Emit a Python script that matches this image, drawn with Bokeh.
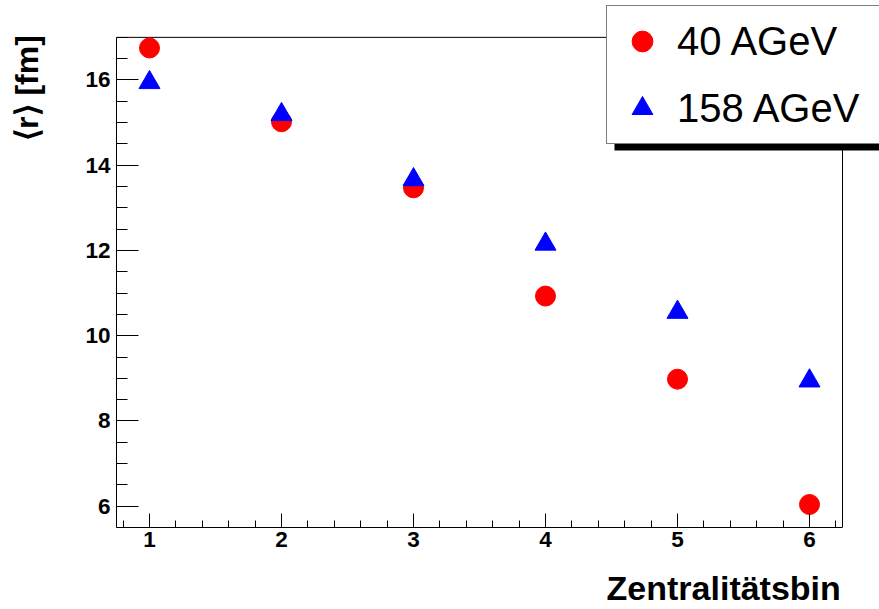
from bokeh.plotting import figure
from bokeh.models import (Range1d, SingleIntervalTicker, FixedTicker, Legend, LegendItem,
                          BoxAnnotation, LinearAxis)
from bokeh.embed import file_html
from bokeh.resources import INLINE

# ---- data ----
bins = [1, 2, 3, 4, 5, 6]
r_40 = [16.75, 15.02, 13.47, 10.93, 8.98, 6.04]
r_158 = [15.94, 15.19, 13.66, 12.15, 10.55, 8.94]
label_40 = "40 AGeV"
label_158 = "158 AGeV"
x_title = "Zentralitätsbin"
y_title = "⟨r⟩ [fm]"

# axis extents (the drawn frame box)
x_lo, x_hi = 0.75, 6.25
y_lo, y_hi = 5.5, 17.0

FONT = "Liberation Sans"

W, H = 879, 609
BL, BB = 116, 80          # left / bottom borders (px)
BOX_W, BOX_H = 726, 492   # size of the drawn frame box (px)
# the Bokeh frame is larger than the drawn box so that the legend can sit
# above / right of the box (annotations are clipped to the frame)
frame_w, frame_h = W - BL, H - BB
px_x = BOX_W / (x_hi - x_lo)
px_y = BOX_H / (y_hi - y_lo)
x_end = x_lo + frame_w / px_x
y_end = y_lo + frame_h / px_y

p = figure(width=W, height=H, output_backend="svg", toolbar_location=None,
           x_range=Range1d(x_lo, x_end), y_range=Range1d(y_lo, y_end),
           min_border_left=BL, min_border_right=0, min_border_top=0,
           min_border_bottom=BB)

p.background_fill_color = "white"
p.border_fill_color = "white"
p.outline_line_color = None
p.xgrid.visible = False
p.ygrid.visible = False

xa = p.xaxis[0]
ya = p.yaxis[0]
xa.ticker = SingleIntervalTicker(interval=1, num_minor_ticks=5)
ya.ticker = SingleIntervalTicker(interval=2, num_minor_ticks=4)
xa.bounds = (x_lo, x_hi)
ya.bounds = (y_lo, y_hi)
for ax in (xa, ya):
    ax.axis_line_color = "black"
    ax.axis_line_width = 1
    ax.major_tick_line_color = "black"
    ax.minor_tick_line_color = "black"
    ax.major_tick_out = 0
    ax.minor_tick_out = 0
    ax.major_label_text_font = FONT
    ax.major_label_text_font_style = "bold"
    ax.major_label_text_font_size = "22.5px"
    ax.major_label_text_color = "black"
xa.major_tick_in = 14
xa.minor_tick_in = 7
ya.major_tick_in = 22
ya.minor_tick_in = 11
xa.major_label_standoff = 4
ya.major_label_standoff = 6


def title_axis(text, size, standoff):
    return LinearAxis(ticker=FixedTicker(ticks=[]), axis_label=text,
                      axis_line_color=None, major_tick_line_color=None,
                      minor_tick_line_color=None, major_tick_in=0, major_tick_out=0,
                      minor_tick_in=0, minor_tick_out=0,
                      axis_label_standoff=standoff, axis_label_text_font=FONT,
                      axis_label_text_font_style="bold",
                      axis_label_text_font_size=size, axis_label_text_color="black")


# axis titles: the (centred) axis labels are led by fixed-width spaces so
# that the visible words end at the right / top end of the drawn frame box
EN, NB = "\u2002", "\u00a0"
p.add_layout(title_axis(EN * 26 + NB + x_title, "34px", 19), "below")
p.add_layout(title_axis(EN * 22 + y_title, "32px", 38), "left")

# top and right edges of the frame box
p.line([x_lo, x_hi, x_hi], [y_hi, y_hi, y_lo], line_color="black", line_width=1)

r1 = p.scatter(bins, r_40, marker="circle", size=20, fill_color="red",
               line_color="red")
r2 = p.scatter(bins, r_158, marker="triangle", size=21, fill_color="blue",
               line_color="blue")

# legend shadow
p.add_layout(BoxAnnotation(left=498, right=900, bottom=377, top=514,
                           left_units="screen", right_units="screen",
                           bottom_units="screen", top_units="screen",
                           fill_color="black", fill_alpha=1.0, line_color=None))

legend = Legend(items=[LegendItem(label=label_40, renderers=[r1]),
                       LegendItem(label=label_158, renderers=[r2])],
                location=(490, 383), margin=0, padding=9, spacing=15,
                glyph_width=52, glyph_height=52, label_standoff=9,
                label_width=250, label_height=52,
                label_text_font=FONT, label_text_font_size="40px",
                label_text_color="black",
                border_line_color="black", border_line_width=1,
                background_fill_color="white", background_fill_alpha=1.0)
p.add_layout(legend, "center")

open("out.html", "w").write(file_html(p, INLINE))
